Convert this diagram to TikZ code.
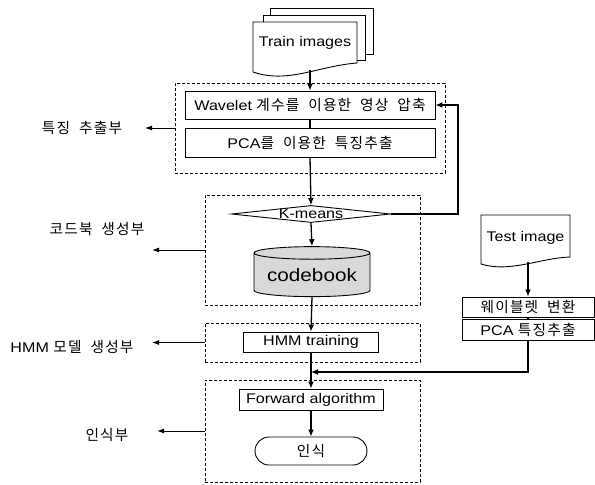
\documentclass[tikz,border=0pt]{standalone}
\usepackage{fontspec}
\setmainfont[FakeStretch=1.15]{Liberation Sans}
\newfontfamily\kr[Scale=1.05,LetterSpace=8,WordSpace=2]{Noto Sans CJK KR}
\usetikzlibrary{shapes.geometric,shapes.misc,arrows.meta,positioning,calc}

\begin{document}
\begin{tikzpicture}[x=1pt,y=-1pt,
	font=\fontsize{14}{16}\selectfont,
	flow/.style={line width=1.3pt,-{Latex[length=7pt,width=6pt]}},
	link/.style={line width=1.3pt},
	side/.style={line width=1pt,-{Latex[length=7pt,width=5pt]}},
	stepbox/.style={draw,line width=0.9pt,inner sep=0pt},
	groupbox/.style={draw,line width=0.7pt,dash pattern=on 3pt off 2pt,inner sep=0pt},
	page/.style={draw,line width=0.9pt,fill=white},
	tag/.style={inner sep=0pt}]
	%\draw[help lines] (0,0) grid[step=50] (595,485);
	\useasboundingbox (0,0) rectangle (595,485);
	
	% groups
	\node[groupbox,minimum width=270pt,minimum height=90pt]  (g1) at (310,128) {};
	\node[groupbox,minimum width=215pt,minimum height=110pt] (g2) at (312.5,250) {};
	\node[groupbox,minimum width=215pt,minimum height=39pt]  (g3) at (312.5,342.5) {};
	\node[groupbox,minimum width=215pt,minimum height=102pt] (g4) at (312.5,431) {};
	
	% train images (stack of pages)
	\draw[page] (270,8) rectangle (373,54);
	\draw[page] (263,15) rectangle (365,60);
	\draw[page] (253,22) -- (357,22) -- (357,63)
		.. controls (318,66) and (288,84) .. (253,72) -- cycle;
	\node[minimum width=104pt,minimum height=42pt,inner sep=0pt] (train) at (305,43) {Train images};
	
	% steps
	\node[stepbox,minimum width=250pt,minimum height=28pt] (wave) at (310,105)
		{Wavelet {\kr 계수를 이용한 영상 압축}};
	\node[stepbox,minimum width=250pt,minimum height=29pt] (pca) at (310,142.5)
		{PCA{\kr 를 이용한 특징추출}};
	\node[diamond,draw,line width=0.9pt,aspect=8.8,minimum width=159pt,inner sep=0pt] (kmeans) at (311,214) {K-means};
	\node[cylinder,shape border rotate=90,aspect=0.14,draw,line width=0.9pt,fill=gray!30,
		minimum width=116pt,minimum height=50pt,inner sep=0pt,font=\fontsize{18}{20}\selectfont] (codebook) at (312,275) {codebook};
	\node[stepbox,minimum width=135pt,minimum height=20pt] (hmm) at (311,342) {HMM training};
	\node[stepbox,minimum width=144pt,minimum height=21pt] (fwd) at (311,399.5) {Forward algorithm};
	\node[stepbox,rounded rectangle,minimum width=112pt,minimum height=28pt] (rec) at (311,451) {\kr 인식};
	
	% test image
	\draw[page] (481,215) -- (570,215) -- (570,257)
		.. controls (540,258) and (510,273) .. (481,264) -- cycle;
	\node[minimum width=89pt,minimum height=40pt,inner sep=0pt] (test) at (525.5,238) {Test image};
	\node[stepbox,minimum width=132pt,minimum height=20pt] (wt) at (528,307) {\kr 웨이블렛 변환};
	\node[stepbox,minimum width=132pt,minimum height=21pt] (pt) at (528,329.5) {PCA {\kr 특징추출}};
	
	% flow
	\coordinate (trainend) at (310,70);
	\coordinate (testend) at (528,262);
	\coordinate (loop) at (458,105);
	\coordinate (merge) at (311,372);
	\draw[flow] (trainend) -- (wave.north);
	\draw[link] (wave) -- (pca);
	\draw[flow] (pca.south) -- (kmeans.north);
	\draw[flow] (kmeans.east) -| (loop) -- (wave.east);
	\draw[flow] (kmeans.south) -- (codebook.north);
	\draw[flow] (codebook.south) -- (hmm.north);
	\draw[flow] (hmm.south) -- (fwd.north);
	\draw[flow] (fwd.south) -- (rec.north);
	\draw[flow] (testend) -- (wt.north);
	\draw[link] (wt) -- (pt);
	\draw[flow] (pt.south) |- (merge);
	
	% tags
	\node[tag] (t1) at (82,128) {\kr 특징 추출부};
	\node[tag] (t2) at (97,229) {\kr 코드북 생성부};
	\node[tag] (t3) at (72,347) {HMM {\kr 모델 생성부}};
	\node[tag] (t4) at (107,435) {\kr 인식부};
	\coordinate (s1) at (145,128);
	\coordinate (s2) at (152,250);
	\coordinate (s3) at (152,342.5);
	\coordinate (s4) at (157,431);
	\foreach \g/\s in {g1/s1,g2/s2,g3/s3,g4/s4}{\draw[side] (\g.west) -- (\s);}
\end{tikzpicture}
\end{document}
